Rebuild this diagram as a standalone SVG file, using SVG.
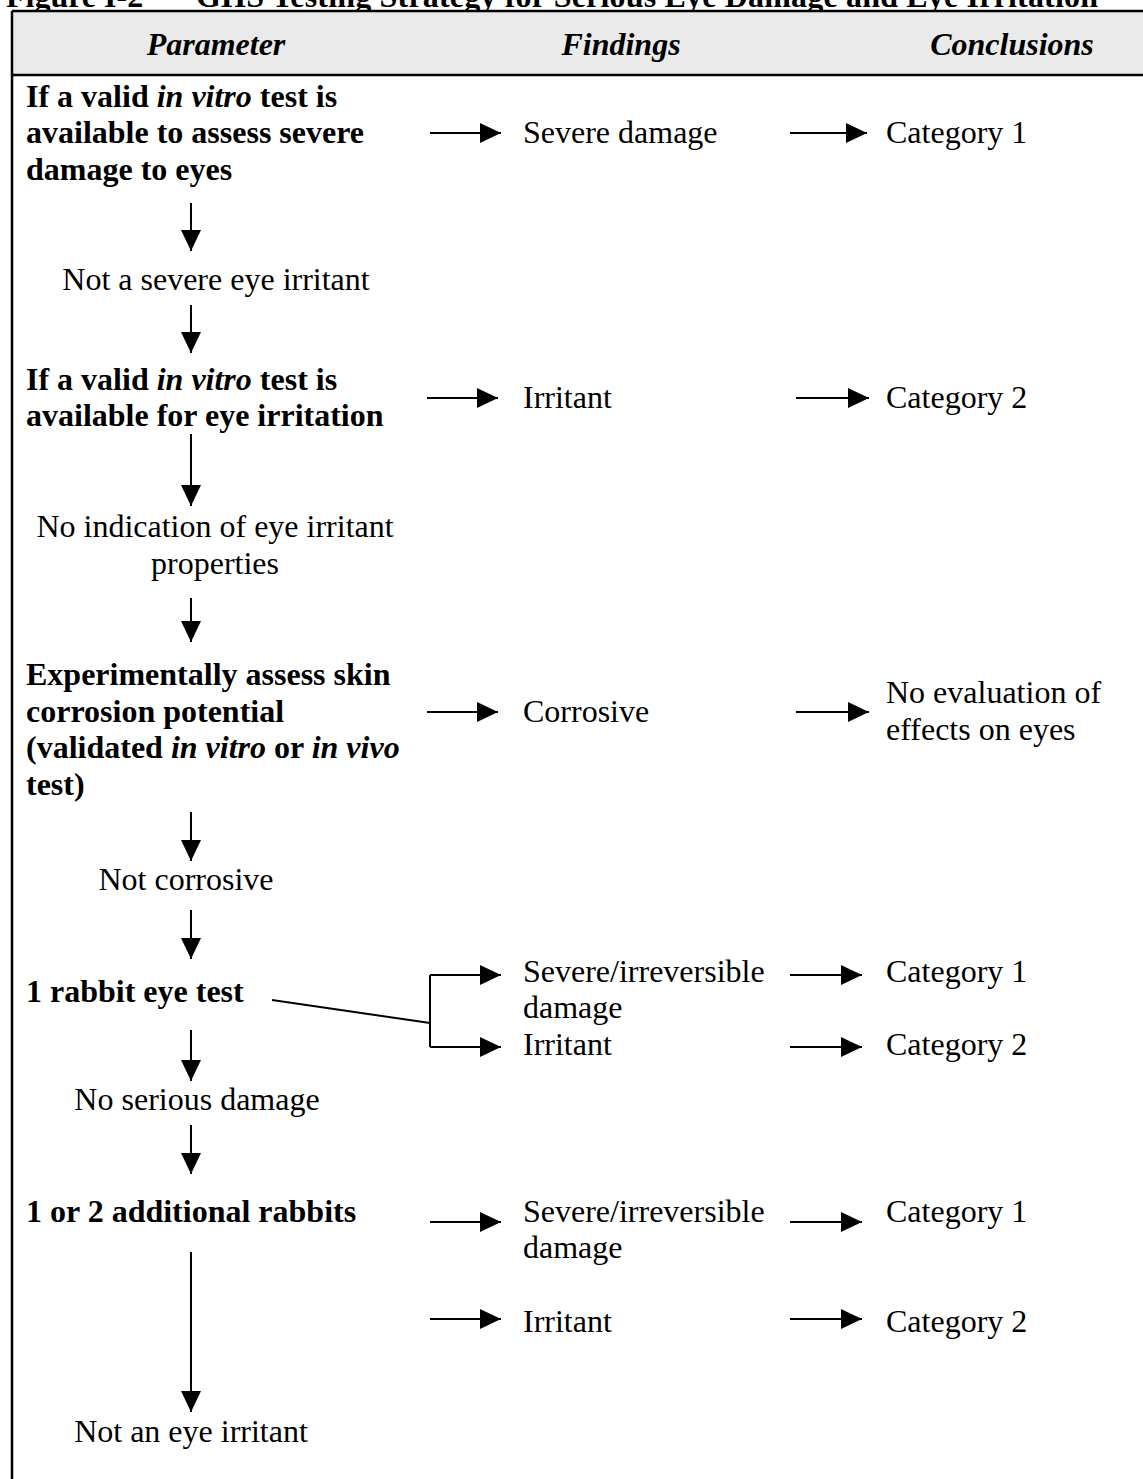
<svg xmlns="http://www.w3.org/2000/svg" width="1143" height="1479" viewBox="0 0 1143 1479">
<defs>
<style>
text{font-family:"Liberation Serif","Times New Roman",serif;font-size:32px;fill:#000}
.b{font-weight:bold}
.bi{font-weight:bold;font-style:italic}
.i{font-style:italic}
.c{text-anchor:middle}
.ln{stroke:#000;stroke-width:2;fill:none}
.arr{stroke:#000;stroke-width:2;fill:none;marker-end:url(#ah)}
</style>
<marker id="ah" markerUnits="userSpaceOnUse" markerWidth="22" markerHeight="20" refX="21" refY="10" orient="auto">
<path d="M0,0 L21,10 L0,20 z" fill="#000"/>
</marker>
</defs>
<rect width="1143" height="1479" fill="#fff"/>
<g id="title">
<text class="b" x="6" y="7">Figure I-2</text>
<text class="b" x="196" y="7" textLength="902" lengthAdjust="spacing">GHS Testing Strategy for Serious Eye Damage and Eye Irritation</text>
</g>
<g id="table">
<rect x="12" y="11" width="1140" height="64" fill="#eaeaea"/>
<path class="ln" d="M12,11 H1150 M12,75 H1150 M12,11 V1485" style="stroke-width:2.5"/>
<text class="bi c" x="216" y="55">Parameter</text>
<text class="bi c" x="621" y="55">Findings</text>
<text class="bi c" x="1012" y="55">Conclusions</text>
</g>
<g id="p1">
<text class="b" x="26" y="107">If a valid <tspan class="i">in vitro</tspan> test is</text>
<text class="b" x="26" y="143">available to assess severe</text>
<text class="b" x="26" y="180">damage to eyes</text>
</g>
<g id="f1"><text x="523" y="143">Severe damage</text></g>
<g id="c1"><text x="886" y="143">Category 1</text></g>
<g id="r1"><text class="c" x="216" y="290">Not a severe eye irritant</text></g>
<g id="p2">
<text class="b" x="26" y="390">If a valid <tspan class="i">in vitro</tspan> test is</text>
<text class="b" x="26" y="426">available for eye irritation</text>
</g>
<g id="f2"><text x="523" y="408">Irritant</text></g>
<g id="c2"><text x="886" y="408">Category 2</text></g>
<g id="r2">
<text class="c" x="215" y="537">No indication of eye irritant</text>
<text class="c" x="215" y="574">properties</text>
</g>
<g id="p3">
<text class="b" x="26" y="685">Experimentally assess skin</text>
<text class="b" x="26" y="722">corrosion potential</text>
<text class="b" x="26" y="758">(validated <tspan class="i">in vitro</tspan> or <tspan class="i">in vivo</tspan></text>
<text class="b" x="26" y="795">test)</text>
</g>
<g id="f3"><text x="523" y="722">Corrosive</text></g>
<g id="c3">
<text x="886" y="703">No evaluation of</text>
<text x="886" y="740">effects on eyes</text>
</g>
<g id="r3"><text class="c" x="186" y="890">Not corrosive</text></g>
<g id="p4"><text class="b" x="26" y="1002">1 rabbit eye test</text></g>
<g id="f4a">
<text x="523" y="982">Severe/irreversible</text>
<text x="523" y="1018">damage</text>
</g>
<g id="f4b"><text x="523" y="1055">Irritant</text></g>
<g id="c4a"><text x="886" y="982">Category 1</text></g>
<g id="c4b"><text x="886" y="1055">Category 2</text></g>
<g id="r4"><text class="c" x="197" y="1110">No serious damage</text></g>
<g id="p5"><text class="b" x="26" y="1222">1 or 2 additional rabbits</text></g>
<g id="f5a">
<text x="523" y="1222">Severe/irreversible</text>
<text x="523" y="1258">damage</text>
</g>
<g id="c5a"><text x="886" y="1222">Category 1</text></g>
<g id="f5b"><text x="523" y="1332">Irritant</text></g>
<g id="c5b"><text x="886" y="1332">Category 2</text></g>
<g id="r5"><text class="c" x="191" y="1442">Not an eye irritant</text></g>
<g id="connectors">
<path class="arr" d="M430,133 H501"/>
<path class="arr" d="M790,133 H867"/>
<path class="arr" d="M191,203 V251"/>
<path class="arr" d="M191,305 V353"/>
<path class="arr" d="M427,398 H498"/>
<path class="arr" d="M796,398 H869"/>
<path class="arr" d="M191,434 V506"/>
<path class="arr" d="M191,598 V642"/>
<path class="arr" d="M427,712 H498"/>
<path class="arr" d="M796,712 H869"/>
<path class="arr" d="M191,812 V861"/>
<path class="arr" d="M191,910 V959"/>
<path class="ln" d="M272,1000 L430,1023"/>
<path class="ln" d="M430,975 V1047"/>
<path class="arr" d="M430,975 H501"/>
<path class="arr" d="M430,1047 H501"/>
<path class="arr" d="M790,975 H862"/>
<path class="arr" d="M790,1047 H862"/>
<path class="arr" d="M191,1030 V1081"/>
<path class="arr" d="M191,1125 V1174"/>
<path class="arr" d="M430,1222 H501"/>
<path class="arr" d="M790,1222 H862"/>
<path class="arr" d="M430,1319 H501"/>
<path class="arr" d="M790,1319 H862"/>
<path class="arr" d="M191,1252 V1412"/>
</g>
</svg>
